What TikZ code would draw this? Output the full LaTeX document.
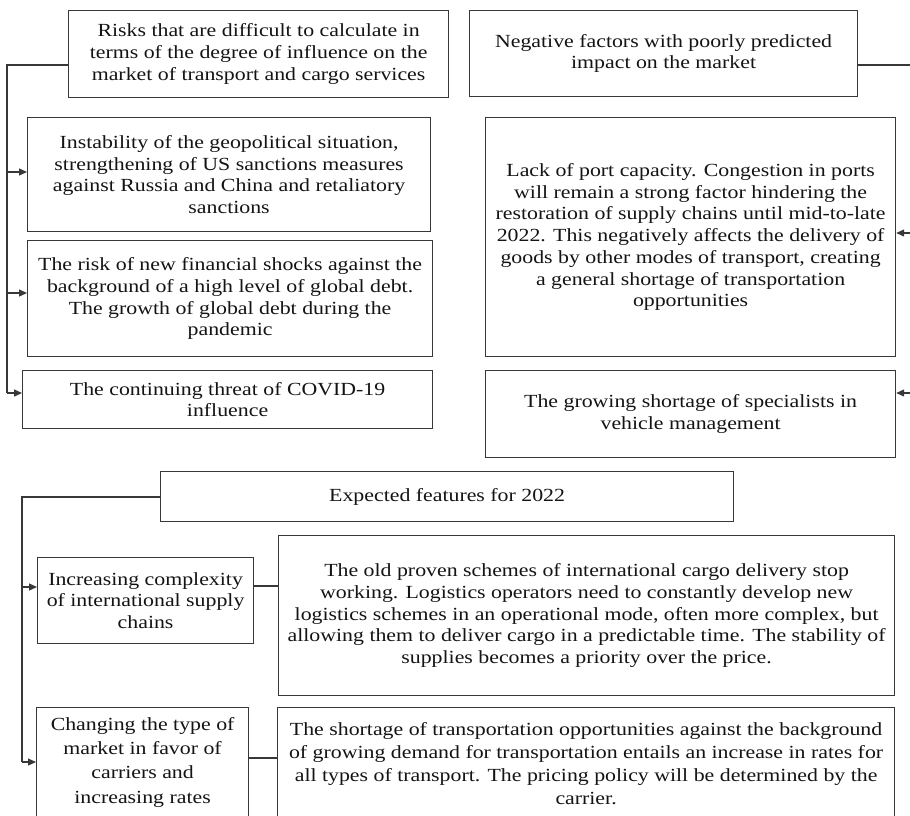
\documentclass[tikz,border=0pt]{standalone}
\usepackage{fontspec}
\setmainfont{Liberation Serif}[FakeStretch=1.18]
\usetikzlibrary{arrows.meta,calc}
\begin{document}
\begin{tikzpicture}[x=1pt,y=-1pt,
  box/.style={draw=black!78, line width=1.2pt, anchor=north west, inner sep=0pt,
    align=center, font=\fontsize{18.5}{21.7}\selectfont, text=black!92},
  conn/.style={draw=black!78, line width=1.2pt},
  arr/.style={conn, -{Triangle[length=8pt,width=7pt]}}]
\clip (0,0) rectangle (910,815);
\fill[white] (0,0) rectangle (910,815);

% top left group
\node[box, minimum width=380, minimum height=87] (risks) at (68,10)
  {Risks that are difficult to calculate in\\terms of the degree of influence on the\\market of transport and cargo services};
\node[box, minimum width=403, minimum height=114] (inst) at (27,117)
  {Instability of the geopolitical situation,\\strengthening of US sanctions measures\\against Russia and China and retaliatory\\sanctions};
\node[box, minimum width=405, minimum height=116] (fin) at (27,240)
  {The risk of new financial shocks against the\\background of a high level of global debt.\\The growth of global debt during the\\pandemic};
\node[box, minimum width=410, minimum height=58] (covid) at (22,370)
  {The continuing threat of COVID-19\\influence};

% top right group
\node[box, minimum width=388, minimum height=86] (neg) at (469,10)
  {Negative factors with poorly predicted\\impact on the market};
\node[box, minimum width=410, minimum height=239] (lack) at (485,117)
  {Lack of port capacity. Congestion in ports\\will remain a strong factor hindering the\\restoration of supply chains until mid-to-late\\2022. This negatively affects the delivery of\\goods by other modes of transport, creating\\a general shortage of transportation\\opportunities};
\node[box, minimum width=410, minimum height=87] (grow) at (485,370)
  {The growing shortage of specialists in\\vehicle management};

% bottom group
\node[box, minimum width=573, minimum height=50] (exp) at (160,471)
  {Expected features for 2022};
\node[box, minimum width=216, minimum height=86] (inc) at (37,557)
  {Increasing complexity\\of international supply\\chains};
\node[box, minimum width=616, minimum height=160] (old) at (278,535)
  {The old proven schemes of international cargo delivery stop\\working. Logistics operators need to constantly develop new\\logistics schemes in an operational mode, often more complex, but\\allowing them to deliver cargo in a predictable time. The stability of\\supplies becomes a priority over the price.};
\node[box, minimum width=212, minimum height=109, font=\fontsize{18.5}{24.3}\selectfont] (chg) at (36,707)
  {Changing the type of\\market in favor of\\carriers and\\increasing rates};
\node[box, minimum width=617, minimum height=112, font=\fontsize{18.5}{22.7}\selectfont] (sho) at (277,707)
  {The shortage of transportation opportunities against the background\\of growing demand for transportation entails an increase in rates for\\all types of transport. The pricing policy will be determined by the\\carrier.};

% connectors top left
\coordinate (lt) at (7,65);
\draw[conn] (risks.west |- lt) -- (lt) -- (lt |- 0,393);
\draw[arr] (lt |- 0,172) -- (inst.west |- 0,172);
\draw[arr] (lt |- 0,293) -- (fin.west |- 0,293);
\draw[arr] (lt |- 0,393) -- (covid.west |- 0,393);

% connectors top right
\coordinate (rt) at (916,65);
\draw[conn] (neg.east |- rt) -- (rt) -- (rt |- 0,393);
\draw[arr] (rt |- 0,233) -- (lack.east |- 0,233);
\draw[arr] (rt |- 0,393) -- (grow.east |- 0,393);

% connectors bottom
\coordinate (lb) at (22,497);
\draw[conn] (exp.west |- lb) -- (lb) -- (lb |- 0,762);
\draw[arr] (lb |- 0,587) -- (inc.west |- 0,587);
\draw[arr] (lb |- 0,762) -- (chg.west |- 0,762);
\draw[conn] (inc.east |- 0,586) -- (old.west |- 0,586);
\draw[conn] (chg.east |- 0,758) -- (sho.west |- 0,758);
\end{tikzpicture}
\end{document}
